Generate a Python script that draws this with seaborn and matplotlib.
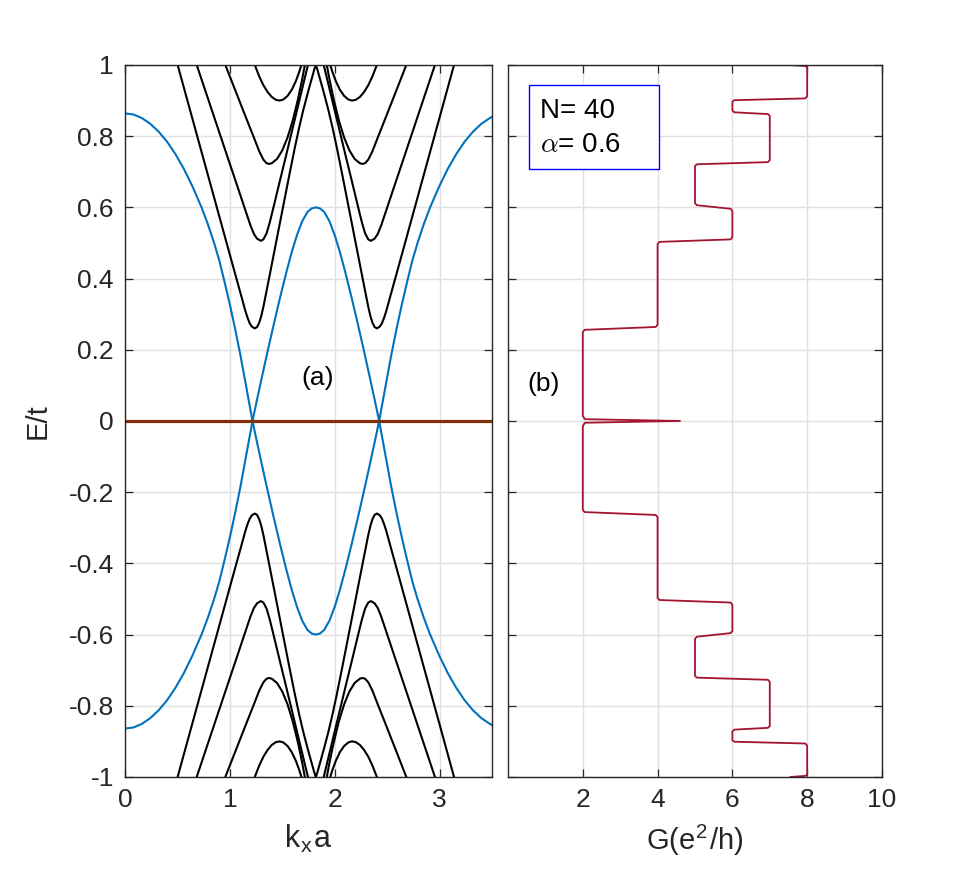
import matplotlib
matplotlib.use("Agg")
import matplotlib.pyplot as plt
import seaborn as sns
from matplotlib.patches import Rectangle
from matplotlib.ticker import FuncFormatter

# ---- panel (a): bands ----
blue_x = [0.00, 0.08, 0.16, 0.24, 0.32, 0.40, 0.48, 0.56, 0.64, 0.73,
          0.79, 0.85, 0.90, 0.95, 1.00, 1.05, 1.10, 1.15, 1.216, 1.26,
          1.31, 1.365, 1.42, 1.48, 1.54, 1.59, 1.64, 1.69, 1.74, 1.78,
          1.82, 1.86, 1.90, 1.95, 2.00, 2.05, 2.10, 2.16, 2.22, 2.275,
          2.33, 2.38, 2.424, 2.49, 2.54, 2.59, 2.64, 2.69, 2.74, 2.79,
          2.85, 2.91, 3.00, 3.08, 3.16, 3.24, 3.32, 3.40, 3.48, 3.50]
blue_up = [0.864, 0.861, 0.851, 0.835, 0.813, 0.785, 0.750, 0.709, 0.661, 0.600,
           0.553, 0.500, 0.450, 0.390, 0.327, 0.259, 0.186, 0.106, 0.000, -0.061,
           -0.129, -0.202, -0.273, -0.348, -0.419, -0.474, -0.522, -0.561, -0.587, -0.597,
           -0.600, -0.597, -0.587, -0.561, -0.522, -0.474, -0.419, -0.348, -0.273, -0.202,
           -0.129, -0.061, 0.000, 0.106, 0.186, 0.259, 0.327, 0.390, 0.450, 0.500,
           0.553, 0.600, 0.661, 0.709, 0.750, 0.785, 0.813, 0.835, 0.851, 0.854]
blue_dn = [-0.864, -0.861, -0.851, -0.835, -0.813, -0.785, -0.750, -0.709, -0.661, -0.600,
           -0.553, -0.500, -0.450, -0.390, -0.327, -0.259, -0.186, -0.106, 0.000, 0.061,
           0.129, 0.202, 0.273, 0.348, 0.419, 0.474, 0.522, 0.561, 0.587, 0.597,
           0.600, 0.597, 0.587, 0.561, 0.522, 0.474, 0.419, 0.348, 0.273, 0.202,
           0.129, 0.061, 0.000, -0.106, -0.186, -0.259, -0.327, -0.390, -0.450, -0.500,
           -0.553, -0.600, -0.661, -0.709, -0.750, -0.785, -0.813, -0.835, -0.851, -0.854]

band1_x = [0.502, 0.60, 0.70, 0.80, 0.90, 1.00, 1.06, 1.11, 1.148, 1.17,
           1.19, 1.21, 1.238, 1.26, 1.28, 1.30, 1.321, 1.37, 1.42, 1.47,
           1.52, 1.57, 1.62, 1.66, 1.70, 1.74, 1.77, 1.79, 1.805, 1.82,
           1.835, 1.85, 1.87, 1.90, 1.94, 1.98, 2.02, 2.07, 2.12, 2.17,
           2.22, 2.27, 2.319, 2.34, 2.36, 2.38, 2.402, 2.43, 2.45, 2.47,
           2.492, 2.53, 2.58, 2.64, 2.74, 2.84, 2.94, 3.04, 3.138]
band1_up = [1.000, 0.895, 0.788, 0.681, 0.574, 0.467, 0.403, 0.350, 0.309, 0.289,
            0.274, 0.265, 0.260, 0.264, 0.276, 0.295, 0.322, 0.395, 0.470, 0.545,
            0.620, 0.695, 0.768, 0.823, 0.873, 0.918, 0.950, 0.971, 0.987, 1.000,
            0.987, 0.971, 0.950, 0.918, 0.873, 0.823, 0.768, 0.695, 0.620, 0.545,
            0.470, 0.395, 0.322, 0.295, 0.276, 0.264, 0.260, 0.265, 0.274, 0.289,
            0.309, 0.350, 0.403, 0.467, 0.574, 0.681, 0.788, 0.895, 1.000]
band1_dn = [-1.000, -0.895, -0.788, -0.681, -0.574, -0.467, -0.403, -0.350, -0.309, -0.289,
            -0.274, -0.265, -0.260, -0.264, -0.276, -0.295, -0.322, -0.395, -0.470, -0.545,
            -0.620, -0.695, -0.768, -0.823, -0.873, -0.918, -0.950, -0.971, -0.987, -1.000,
            -0.987, -0.971, -0.950, -0.918, -0.873, -0.823, -0.768, -0.695, -0.620, -0.545,
            -0.470, -0.395, -0.322, -0.295, -0.276, -0.264, -0.260, -0.265, -0.274, -0.289,
            -0.309, -0.350, -0.403, -0.467, -0.574, -0.681, -0.788, -0.895, -1.000]

band2_x = [0.60, 0.684, 0.80, 0.90, 1.00, 1.08, 1.14, 1.197, 1.23, 1.26,
           1.295, 1.32, 1.35, 1.381, 1.43, 1.48, 1.53, 1.58, 1.63, 1.68,
           1.72, 1.745, 1.78, 1.82, 1.86, 1.895, 1.92, 1.96, 2.01, 2.06,
           2.11, 2.16, 2.21, 2.259, 2.29, 2.32, 2.345, 2.38, 2.41, 2.443,
           2.50, 2.56, 2.64, 2.74, 2.84, 2.956, 3.04]
band2_up = [1.074, 1.000, 0.898, 0.810, 0.722, 0.652, 0.599, 0.549, 0.525, 0.512,
            0.506, 0.510, 0.527, 0.558, 0.617, 0.678, 0.738, 0.799, 0.860, 0.921,
            0.970, 1.000, 1.035, 1.060, 1.035, 1.000, 0.970, 0.921, 0.860, 0.799,
            0.738, 0.678, 0.617, 0.558, 0.527, 0.510, 0.506, 0.512, 0.525, 0.549,
            0.599, 0.652, 0.722, 0.810, 0.898, 1.000, 1.074]
band2_dn = [-1.074, -1.000, -0.898, -0.810, -0.722, -0.652, -0.599, -0.549, -0.525, -0.512,
            -0.506, -0.510, -0.527, -0.558, -0.617, -0.678, -0.738, -0.799, -0.860, -0.921,
            -0.970, -1.000, -1.035, -1.060, -1.035, -1.000, -0.970, -0.921, -0.860, -0.799,
            -0.738, -0.678, -0.617, -0.558, -0.527, -0.510, -0.506, -0.512, -0.525, -0.549,
            -0.599, -0.652, -0.722, -0.810, -0.898, -1.000, -1.074]

band3_x = [0.90, 0.957, 1.05, 1.15, 1.22, 1.281, 1.32, 1.35, 1.375, 1.40,
           1.45, 1.50, 1.55, 1.60, 1.65, 1.69, 1.714, 1.74, 1.90, 1.926,
           1.95, 1.99, 2.04, 2.09, 2.14, 2.19, 2.24, 2.265, 2.29, 2.32,
           2.359, 2.42, 2.49, 2.59, 2.683, 2.74]
band3_up = [1.042, 1.000, 0.930, 0.855, 0.803, 0.757, 0.734, 0.724, 0.722, 0.724,
            0.736, 0.760, 0.796, 0.844, 0.904, 0.960, 0.998, 1.042, 1.042, 0.998,
            0.960, 0.904, 0.844, 0.796, 0.760, 0.736, 0.724, 0.722, 0.724, 0.734,
            0.757, 0.803, 0.855, 0.930, 1.000, 1.042]
band3_dn = [-1.042, -1.000, -0.930, -0.855, -0.803, -0.757, -0.734, -0.724, -0.722, -0.724,
            -0.736, -0.760, -0.796, -0.844, -0.904, -0.960, -0.998, -1.042, -1.042, -0.998,
            -0.960, -0.904, -0.844, -0.796, -0.760, -0.736, -0.724, -0.722, -0.724, -0.734,
            -0.757, -0.803, -0.855, -0.930, -1.000, -1.042]

band4_x = [1.20, 1.238, 1.28, 1.32, 1.36, 1.40, 1.44, 1.476, 1.51, 1.55,
           1.59, 1.63, 1.66, 1.683, 1.71, 1.93, 1.957, 1.98, 2.01, 2.05,
           2.09, 2.13, 2.164, 2.20, 2.24, 2.28, 2.32, 2.36, 2.402, 2.44]
band4_up = [1.027, 1.000, 0.968, 0.943, 0.924, 0.910, 0.902, 0.900, 0.903, 0.913,
            0.930, 0.955, 0.979, 1.000, 1.030, 1.030, 1.000, 0.979, 0.955, 0.930,
            0.913, 0.903, 0.900, 0.902, 0.910, 0.924, 0.943, 0.968, 1.000, 1.027]
band4_dn = [-1.027, -1.000, -0.968, -0.943, -0.924, -0.910, -0.902, -0.900, -0.903, -0.913,
            -0.930, -0.955, -0.979, -1.000, -1.030, -1.030, -1.000, -0.979, -0.955, -0.930,
            -0.913, -0.903, -0.900, -0.902, -0.910, -0.924, -0.943, -0.968, -1.000, -1.027]

zero_x = [0.0, 3.5]
zero_E = [0.0, 0.0]

# ---- panel (b): conductance G(E) ----
G_cond = [7.55, 7.95, 8.00, 8.00, 7.95, 6.05, 6.00, 6.00, 6.05, 6.95,
          7.00, 7.00, 6.95, 5.05, 5.00, 5.00, 5.05, 5.95, 6.00, 6.00,
          5.95, 4.05, 4.00, 4.00, 3.95, 2.05, 2.00, 2.00, 2.06, 4.60,
          2.06, 2.00, 2.00, 2.05, 3.95, 4.00, 4.00, 4.05, 5.95, 6.00,
          6.00, 5.95, 5.05, 5.00, 5.00, 5.05, 6.95, 7.00, 7.00, 6.95,
          6.05, 6.00, 6.00, 6.05, 7.95, 8.00, 8.00, 7.95, 7.50]
E_cond = [-1.000, -0.997, -0.993, -0.912, -0.906, -0.901, -0.897, -0.872, -0.867, -0.862,
          -0.857, -0.733, -0.727, -0.721, -0.716, -0.612, -0.606, -0.596, -0.590, -0.516,
          -0.510, -0.503, -0.497, -0.270, -0.264, -0.256, -0.250, -0.014, -0.005, 0.000,
          0.005, 0.014, 0.250, 0.256, 0.264, 0.270, 0.497, 0.503, 0.510, 0.516,
          0.590, 0.596, 0.606, 0.612, 0.716, 0.721, 0.727, 0.733, 0.857, 0.862,
          0.867, 0.872, 0.897, 0.901, 0.906, 0.912, 0.993, 0.997, 1.000]

e_ticks = [-1, -0.8, -0.6, -0.4, -0.2, 0, 0.2, 0.4, 0.6, 0.8, 1]
k_ticks = [0, 1, 2, 3]
g_ticks = [2, 4, 6, 8, 10]

sns.set_theme(style="ticks")
plt.rcParams['font.family'] = ['Liberation Sans', 'DejaVu Sans']
plt.rcParams['mathtext.fontset'] = 'cm'
plt.rcParams['axes.unicode_minus'] = False

edge = '#262626'
fig = plt.figure(figsize=(9.75, 8.73), dpi=100)
ax1 = fig.add_axes([0.1282, 0.1100, 0.3764, 0.8156])
ax2 = fig.add_axes([0.5210, 0.1100, 0.3836, 0.8156])

bands = [(band1_x, band1_up, band1_dn), (band2_x, band2_up, band2_dn),
         (band3_x, band3_up, band3_dn), (band4_x, band4_up, band4_dn)]
for bx, bu, bd in bands:
    sns.lineplot(x=bx, y=bu, ax=ax1, color='black', lw=1.5, sort=False, estimator=None)
    sns.lineplot(x=bx, y=bd, ax=ax1, color='black', lw=1.5, sort=False, estimator=None)
sns.lineplot(x=blue_x, y=blue_up, ax=ax1, color='#0072BD', lw=1.5, sort=False, estimator=None)
sns.lineplot(x=blue_x, y=blue_dn, ax=ax1, color='#0072BD', lw=1.5, sort=False, estimator=None)
sns.lineplot(x=zero_x, y=zero_E, ax=ax1, color='#7F2F0A', lw=2.3, sort=False, estimator=None)

sns.lineplot(x=G_cond, y=E_cond, ax=ax2, color='#A2142F', lw=1.3, sort=False, estimator=None)

fmt = FuncFormatter(lambda v, p: '%g' % v)
for ax in (ax1, ax2):
    ax.set_ylim(-1, 1)
    ax.set_yticks(e_ticks)
    ax.yaxis.set_major_formatter(fmt)
    ax.grid(True, color='#e0e0e0', lw=1.0)
    ax.set_axisbelow(True)
    ax.tick_params(direction='in', length=6, width=0.9, top=True, right=True,
                   colors=edge, labelsize=19, pad=8)
    for s in ax.spines.values():
        s.set_color(edge)
        s.set_linewidth(1.0)

ax1.set_xlim(0, 3.5)
ax1.set_xticks(k_ticks)
ax1.xaxis.set_major_formatter(fmt)
ax1.set_xlabel(r'k$_\mathregular{x}$a', fontsize=22, color=edge, labelpad=8)
ax1.set_ylabel('E/t', fontsize=21, color=edge, labelpad=12)
ax1.text(0.526, 0.560, '(a)', transform=ax1.transAxes, fontsize=19,
         ha='center', va='center', color='black')

ax2.set_xlim(0, 10)
ax2.set_xticks(g_ticks)
ax2.xaxis.set_major_formatter(fmt)
ax2.set_yticklabels([])
ax2.set_xlabel(r'G(e$^\mathregular{2}$/h)', fontsize=21, color=edge, labelpad=8)
ax2.text(0.096, 0.552, '(b)', transform=ax2.transAxes, fontsize=19,
         ha='center', va='center', color='black')

ax2.add_patch(Rectangle((0.056, 0.854), 0.348, 0.118, transform=ax2.transAxes,
                        fill=True, facecolor='white', edgecolor='#0000ff', lw=1.0, zorder=5))
ax2.text(0.085, 0.935, 'N= 40', transform=ax2.transAxes, fontsize=20,
         ha='left', va='center', color='black', zorder=6)
ax2.text(0.085, 0.888, r'$\alpha$= 0.6', transform=ax2.transAxes, fontsize=20,
         ha='left', va='center', color='black', zorder=6)

fig.savefig('out.png', dpi=100)
